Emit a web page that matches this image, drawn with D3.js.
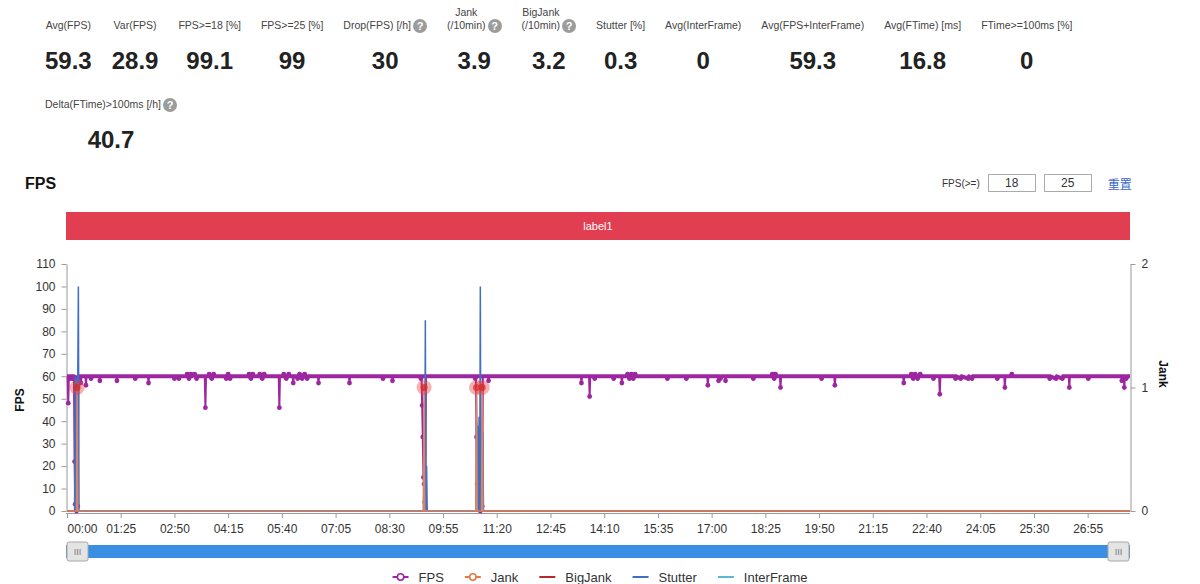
<!DOCTYPE html>
<html>
<head>
<meta charset="utf-8">
<script src="https://cdn.jsdelivr.net/npm/d3@7"></script>
<style>
  body { margin: 0; width: 1200px; height: 584px; overflow: hidden; background: #fff;
         font-family: "Liberation Sans", Arial, sans-serif; position: relative; }
  #stats { position: absolute; left: 35px; top: 0; width: 1160px; display: flex; flex-wrap: wrap; row-gap: 3px; }
  .stat { padding: 0 10px; display: flex; flex-direction: column; align-items: center; }
  .stat .lab { height: 32px; display: flex; align-items: flex-end; font-size: 10.5px; line-height: 13px;
               color: #444; text-align: center; white-space: pre-line; }
  .stat .val { margin-top: 14px; font-size: 24px; line-height: 30px; font-weight: bold; color: #222; }
  .help { display: inline-block; width: 14px; height: 14px; border-radius: 50%; background: #9c9c9c; color: #fff;
          font-size: 11px; font-weight: bold; line-height: 14px; text-align: center; margin-left: 2px; margin-bottom: -1px; }
  #title { position: absolute; left: 25px; top: 175px; font-size: 16px; font-weight: bold; color: #111; }
  #filter { position: absolute; left: 942px; top: 174px; font-size: 10px; color: #333; display: flex; align-items: center; height: 18px; }
  #filter input { width: 48px; height: 18px; box-sizing: border-box; border: 1px solid #aaa; text-align: center;
                  font: 12px "Liberation Sans", Arial, sans-serif; color: #333; padding: 0; margin-left: 8px; }
  #filter .reset { margin-left: 16px; color: #3a66c8; font-size: 12px; font-family: "Noto Sans CJK SC", sans-serif; }
  svg { position: absolute; left: 0; top: 0; }
</style>
</head>
<body>
<div id="stats"></div>
<div id="title">FPS</div>
<div id="filter">FPS(&gt;=)</div>
<svg id="chart" width="1200" height="584"></svg>
<script>
// summary numbers
const statLabels = ["Avg(FPS)", "Var(FPS)", "FPS>=18 [%]", "FPS>=25 [%]", "Drop(FPS) [/h]", "Jank\n(/10min)",
  "BigJank\n(/10min)", "Stutter [%]", "Avg(InterFrame)", "Avg(FPS+InterFrame)", "Avg(FTime) [ms]",
  "FTime>=100ms [%]", "Delta(FTime)>100ms [/h]"];
const statValues = ["59.3", "28.9", "99.1", "99", "30", "3.9", "3.2", "0.3", "0", "59.3", "16.8", "0", "40.7"];
const statHelp = [false, false, false, false, true, true, true, false, false, false, false, false, true];

const fpsThresholds = [18, 25];
const bandLabel = "label1";

// axis ticks
const yTicks = [0, 10, 20, 30, 40, 50, 60, 70, 80, 90, 100, 110];
const jankTicks = [0, 1, 2];
const xTickLabels = ["00:00", "01:25", "02:50", "04:15", "05:40", "07:05", "08:30", "09:55", "11:20", "12:45",
  "14:10", "15:35", "17:00", "18:25", "19:50", "21:15", "22:40", "24:05", "25:30", "26:55"];
const durationSec = 1682;

// series: [second, value]
const fpsSeries = [
  [0,60],[1,60],[2,48],[3,60],[4,60],[5,59],[6,60],[8,60],[9,59],[10,60],[11,60],[12,22],[13,3],[14,56],[15,0],
  [16,55],[17,2],[18,59],[19,60],[21,60],[22,57],[23,60],[29,60],[30,56],[31,60],[37,60],[38,59],[39,60],
  [51,60],[52,58],[53,60],[78,60],[79,58],[80,60],[107,60],[108,59],[109,60],[128,60],[129,57],[130,60],
  [169,60],[170,59],[171,60],[176,60],[177,59],[178,60],[189,60],[190,61],[192,60],[193,59],[194,60],[196,61],
  [198,60],[202,61],[204,60],[205,59],[206,60],[218,60],[219,46],[220,60],[224,60],[225,61],[226,60],[229,59],
  [230,60],[232,61],[233,60],[251,60],[252,59],[253,60],[255,61],[256,60],[258,59],[259,60],[287,60],[288,61],
  [289,60],[291,59],[292,60],[294,61],[295,60],[304,60],[305,61],[306,60],[309,59],[310,60],[312,61],[313,60],
  [335,60],[336,46],[337,60],[342,60],[343,61],[344,60],[347,59],[348,60],[351,61],[352,60],[357,60],[358,57],
  [359,60],[364,60],[365,59],[366,60],[368,61],[369,60],[372,59],[373,60],[376,61],[377,60],[380,59],[381,60],
  [397,60],[398,57],[399,60],[446,60],[447,57],[448,60],[499,60],[500,59],[501,60],[514,60],[515,58],[516,60],
  [559,60],[560,59],[561,60],[562,47],[563,33],[564,15],[565,12],[566,4],[567,1],[568,60],
  [645,60],[646,59],[647,60],[648,33],[649,12],[650,5],[652,1],[654,0],[656,6],[657,2],[658,60],[666,60],[667,58],
  [668,60],[813,60],[814,57],[815,60],[826,60],[827,51],[828,60],[834,60],[835,59],[836,60],[864,60],[865,59],
  [866,60],[877,60],[878,57],[879,60],[886,60],[887,61],[888,60],[890,59],[891,60],[893,61],[894,60],[896,59],
  [897,60],[899,61],[900,60],[949,60],[950,59],[951,60],[979,60],[980,59],[981,60],[1013,60],[1014,56],[1015,60],
  [1030,60],[1031,58],[1032,60],[1034,59],[1035,60],[1041,60],[1042,58],[1043,60],[1085,60],[1086,59],[1087,60],
  [1115,60],[1116,61],[1117,60],[1119,59],[1120,60],[1121,61],[1122,60],[1128,60],[1129,55],[1130,60],
  [1193,60],[1194,59],[1195,60],[1214,60],[1215,56],[1216,60],[1323,60],[1324,57],[1325,60],[1335,60],[1336,61],
  [1337,60],[1339,59],[1340,60],[1342,61],[1343,60],[1346,59],[1347,60],[1350,61],[1351,60],[1370,60],[1371,59],
  [1372,60],[1380,60],[1381,52],[1382,60],[1405,60],[1406,59],[1407,60],[1414,59],[1415,60],[1426,59],[1427,60],
  [1432,59],[1433,60],[1471,60],[1472,59],[1473,60],[1483,60],[1484,55],[1485,60],[1494,60],[1495,61],[1496,60],
  [1554,60],[1555,59],[1556,60],[1565,59],[1566,60],[1575,59],[1576,60],[1585,60],[1586,55],[1587,60],
  [1615,60],[1616,59],[1617,60],[1668,60],[1669,58],[1670,60],[1672,60],[1673,55],[1674,60],[1676,59],[1677,60],
  [1682,60]
];
const stutterSeries = [
  [12,0],[13,60],[14,1],[15,59],[16,0],[17,58],[18,100],[19,0],[20,0],
  [564,0],[565,28],[566,0],[567,85],[568,0],[569,20],[570,0],
  [647,0],[648,40],[649,0],[650,38],[651,0],[652,42],[653,0],[654,100],[655,0],[656,40],[657,0],[658,35],[659,0]
];
const jankSeries = [[0,0],[15,0],[16,1],[17,0],[564,0],[565,1],[566,0],[647,0],[648,1],[649,0],
  [656,0],[657,1],[658,0],[1682,0]];
const bigJankSeries = [[0,0],[1682,0]];
const interFrameSeries = [[0,0],[1682,0]];

const legendNames = ["FPS", "Jank", "BigJank", "Stutter", "InterFrame"];
const seriesColors = ["#9c27a0", "#e07b45", "#b22a2a", "#3f6fc2", "#5bb8d8"];

// ---- stats block ----
const items = d3.select("#stats").selectAll("div.stat")
  .data(statLabels)
  .join("div").attr("class", "stat");
const labs = items.append("div").attr("class", "lab");
labs.append("span").text(d => d);
labs.filter((d, i) => statHelp[i]).append("span").attr("class", "help").text("?");
items.append("div").attr("class", "val").text((d, i) => statValues[i]);

// ---- filter inputs ----
const filter = d3.select("#filter");
fpsThresholds.forEach(v => filter.append("input").attr("type", "text").property("value", v));
filter.append("span").attr("class", "reset").text("重置");

// ---- chart ----
const svg = d3.select("#chart");
const margin = { left: 66, right: 1130, top: 264, bottom: 511 };

const x = d3.scaleLinear().domain([0, durationSec]).range([67, margin.right]);
const y = d3.scaleLinear().domain([0, 110]).range([margin.bottom, margin.top]);
const yJank = d3.scaleLinear().domain([0, 2]).range([margin.bottom, margin.top]);

const toSec = s => { const p = s.split(":"); return +p[0] * 60 + +p[1]; };

// label band
svg.append("rect")
  .attr("x", margin.left).attr("y", 212).attr("width", margin.right - margin.left).attr("height", 28)
  .attr("fill", "#e23e52");
svg.append("text")
  .attr("x", (margin.left + margin.right) / 2).attr("y", 226).attr("dy", "0.35em")
  .attr("text-anchor", "middle").attr("fill", "#fff").attr("font-size", 11)
  .text(bandLabel);

// axes
const styleAxis = g => {
  g.select(".domain").attr("stroke", "#999");
  g.selectAll(".tick line").attr("stroke", "#999");
  g.selectAll(".tick text").attr("fill", "#333").attr("font-size", 12)
    .attr("font-family", '"Liberation Sans", Arial, sans-serif');
};

svg.append("g")
  .attr("transform", `translate(${margin.left + 0.5},0)`)
  .call(d3.axisLeft(y).tickValues(yTicks).tickSize(5).tickSizeOuter(0).tickPadding(6))
  .call(styleAxis);

svg.append("g")
  .attr("transform", `translate(${margin.right + 0.5},0)`)
  .call(d3.axisRight(yJank).tickValues(jankTicks).tickFormat(d3.format("d"))
    .tickSize(5).tickSizeOuter(0).tickPadding(6))
  .call(styleAxis);

const gx = svg.append("g")
  .attr("transform", `translate(0,${margin.bottom + 2})`)
  .call(d3.axisBottom(x).tickValues(xTickLabels.map(toSec))
    .tickFormat((d, i) => xTickLabels[i]).tickSize(5).tickSizeOuter(0).tickPadding(6))
  .call(styleAxis);
gx.select(".domain").attr("d", `M${margin.left},0.5H${margin.right}`);
gx.select(".tick text").attr("text-anchor", "start");

// axis titles
svg.append("text")
  .attr("transform", `translate(24,400) rotate(-90)`)
  .attr("text-anchor", "middle").attr("font-size", 12).attr("font-weight", "bold").attr("fill", "#111")
  .text("FPS");
svg.append("text")
  .attr("transform", `translate(1159,374) rotate(90)`)
  .attr("text-anchor", "middle").attr("font-size", 12).attr("font-weight", "bold").attr("fill", "#111")
  .text("Jank");

// lines
const plot = svg.append("g");
const lineL = d3.line().x(d => x(d[0])).y(d => y(d[1]));
const lineR = d3.line().x(d => x(d[0])).y(d => yJank(d[1]));

plot.append("path").datum(interFrameSeries).attr("d", lineL)
  .attr("fill", "none").attr("stroke", seriesColors[4]).attr("stroke-width", 1.5);
plot.append("path").datum(bigJankSeries).attr("d", lineR)
  .attr("fill", "none").attr("stroke", seriesColors[2]).attr("stroke-width", 1.5);

plot.append("path").datum(fpsSeries).attr("d", lineL)
  .attr("fill", "none").attr("stroke", seriesColors[0]).attr("stroke-width", 2)
  .attr("stroke-linejoin", "round");
// thick band where the frame rate sits at 59-60
plot.append("path").datum(fpsSeries.filter(d => d[1] >= 59)).attr("d", lineL)
  .attr("fill", "none").attr("stroke", seriesColors[0]).attr("stroke-width", 4)
  .attr("stroke-linejoin", "round");
plot.append("g").selectAll("circle")
  .data(fpsSeries.filter(d => d[1] !== 60))
  .join("circle")
  .attr("cx", d => x(d[0])).attr("cy", d => y(d[1])).attr("r", 2.4)
  .attr("fill", seriesColors[0]);

plot.append("path").datum(stutterSeries).attr("d", lineL)
  .attr("fill", "none").attr("stroke", seriesColors[3]).attr("stroke-width", 1.5);

plot.append("path").datum(jankSeries).attr("d", lineR)
  .attr("fill", "none").attr("stroke", "#d98563").attr("stroke-width", 1.6);

const jankHits = jankSeries.filter(d => d[1] > 0);
const hit = plot.append("g").selectAll("g")
  .data(jankHits)
  .join("g")
  .attr("transform", d => `translate(${x(d[0])},${yJank(d[1])})`);
hit.append("circle").attr("r", 7.5).attr("fill", "rgba(232,70,70,0.42)");
hit.append("circle").attr("r", 3.5).attr("fill", "rgba(215,40,40,0.75)");

// zoom slider
const slider = svg.append("g");
slider.append("rect")
  .attr("x", margin.left).attr("y", 545).attr("width", margin.right - margin.left).attr("height", 13)
  .attr("fill", "#3b8fe2");
[margin.left + 1, margin.right - 22].forEach(hx => {
  const h = slider.append("g").attr("transform", `translate(${hx},542)`);
  h.append("rect").attr("width", 21).attr("height", 19).attr("rx", 2)
    .attr("fill", "#e4e4e4").attr("stroke", "#a8a8a8");
  h.append("text").attr("x", 10.5).attr("y", 10).attr("dy", "0.35em").attr("text-anchor", "middle")
    .attr("font-size", 9).attr("fill", "#777").text("III");
});

// legend
const legend = svg.append("g").attr("transform", "translate(0,577)");
const li = legend.selectAll("g")
  .data(legendNames)
  .join("g");
li.append("line").attr("x1", 0).attr("x2", 16)
  .attr("stroke", (d, i) => seriesColors[i]).attr("stroke-width", 2);
li.filter((d, i) => i < 2).append("circle")
  .attr("cx", 8).attr("r", 3.2).attr("fill", "#fff")
  .attr("stroke", (d, i) => seriesColors[i]).attr("stroke-width", 1.6);
li.append("text").attr("x", 26).attr("dy", "0.35em")
  .attr("font-size", 13).attr("fill", "#333").text(d => d);

const widths = [];
li.each(function () {
  widths.push(26 + this.querySelector("text").getComputedTextLength());
});
let pos = 600 - (d3.sum(widths) + 21 * (widths.length - 1)) / 2;
li.attr("transform", (d, i) => {
  const t = `translate(${pos},0)`;
  pos += widths[i] + 21;
  return t;
});
</script>
</body>
</html>
